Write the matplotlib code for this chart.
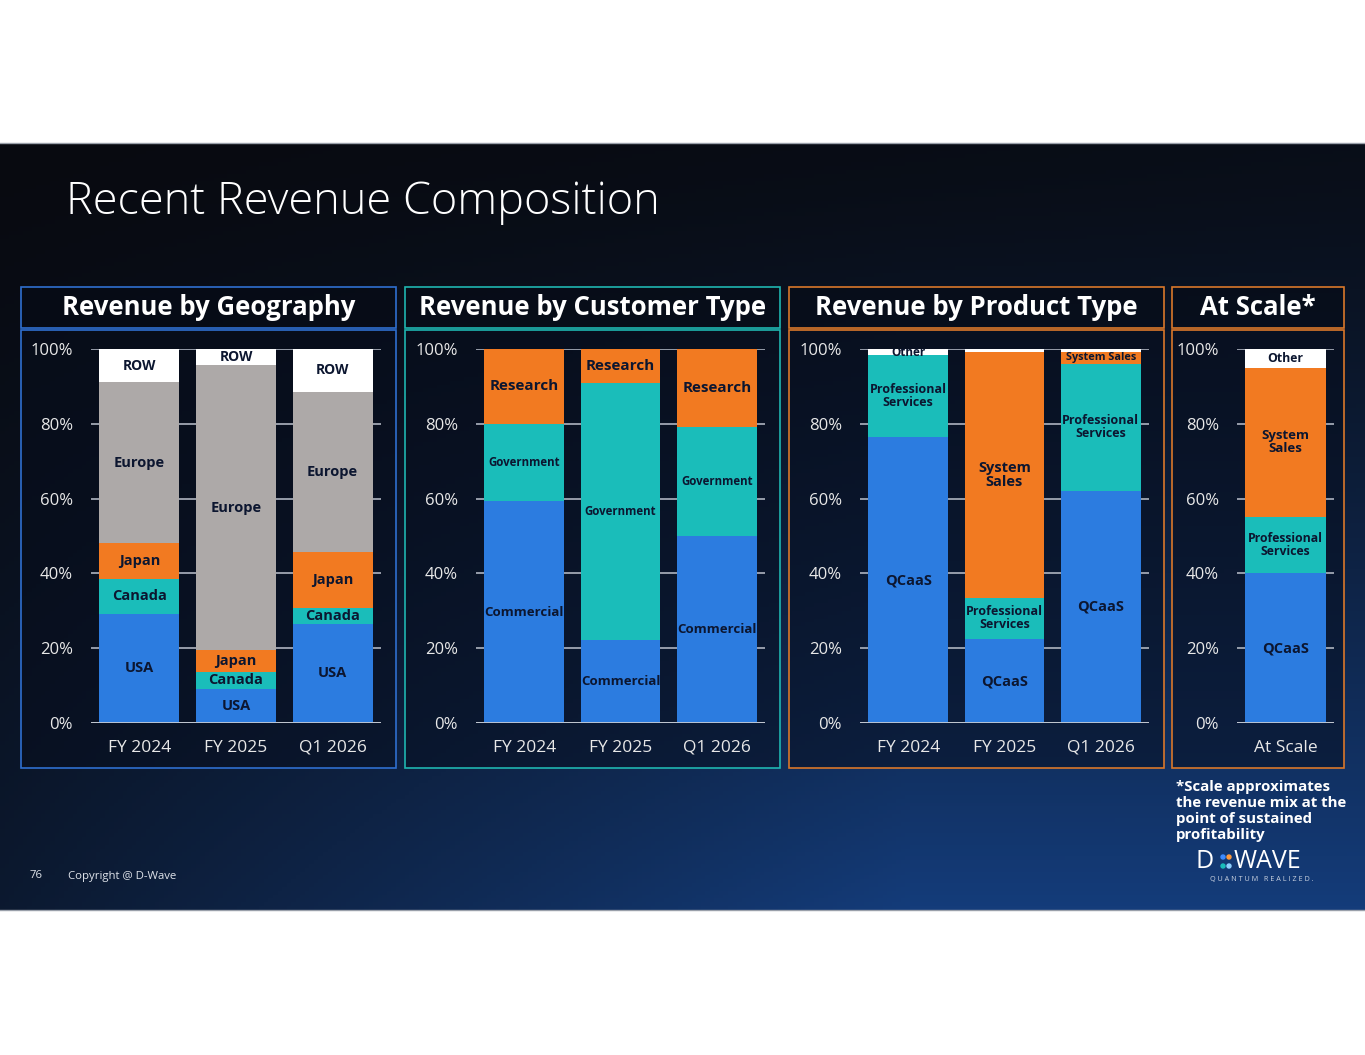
import numpy as np
import matplotlib
matplotlib.use("Agg")
import matplotlib.pyplot as plt
from matplotlib.patches import Rectangle, Circle

W, H = 1365, 1055

# revenue shares in %
periods = ["FY 2024", "FY 2025", "Q1 2026"]

geo_labels = ["USA", "Canada", "Japan", "Europe", "ROW"]
geo_usa = [29.2, 9.1, 26.6]
geo_canada = [9.3, 4.6, 4.2]
geo_japan = [9.6, 5.7, 15.0]
geo_europe = [43.0, 76.3, 42.8]
geo_row = [8.9, 4.3, 11.4]

cust_labels = ["Commercial", "Government", "Research"]
cust_commercial = [59.3, 22.3, 49.9]
cust_government = [20.7, 68.5, 29.2]
cust_research = [20.0, 9.2, 20.9]

prod_labels = ["QCaaS", "Professional\nServices", "System\nSales", "Other"]
prod_qcaas = [76.4, 22.4, 62.1]
prod_services = [21.9, 11.1, 33.9]
prod_system = [0.0, 65.8, 3.2]
prod_other = [1.7, 0.7, 0.8]

scale_cats = ["At Scale"]
scale_qcaas = [40.0]
scale_services = [15.0]
scale_system = [40.0]
scale_other = [5.0]

yticks = [0, 20, 40, 60, 80, 100]
ytick_labels = ["0%", "20%", "40%", "60%", "80%", "100%"]

BLUE = "#2c7ce0"
TEAL = "#1abdba"
ORANGE = "#f27a21"
GREY = "#ada9a8"
WHITE = "#ffffff"
INK = "#0c1630"

plt.rcParams["font.family"] = ["Open Sans", "DejaVu Sans"]

fig = plt.figure(figsize=(W / 100, H / 100), dpi=100)
fig.patch.set_facecolor("white")

# background in pixel coordinates
bg = fig.add_axes([0, 0, 1, 1])
bg.set_xlim(0, W)
bg.set_ylim(H, 0)
bg.axis("off")

top, bot = 143, 910
ny, nx = 200, 300
yy, xx = np.mgrid[0:1:ny * 1j, 0:1:nx * 1j]
f = yy ** 1.3 * (0.3 + 0.7 * np.clip(xx * 1.5, 0, 1)) + 0.08 * xx * (1 - yy)
dark = np.array([8, 10, 16]) / 255
blue = np.array([20, 60, 122]) / 255
grad = dark + (blue - dark) * f[..., None]
bg.imshow(grad, extent=[0, W, bot, top], aspect="auto", zorder=0)
bg.plot([0, W], [top, top], color="#9aa0aa", lw=1, zorder=1)
bg.plot([0, W], [bot, bot], color="#9aa0aa", lw=1, zorder=1)

bg.text(66, 203, "Recent Revenue Composition", color="white", fontsize=32.5,
        fontweight="light", va="center", ha="left")
bg.text(30, 876, "76", color="#dfe3ea", fontsize=8.2, va="center")
bg.text(68, 876, "Copyright @ D-Wave", color="#dfe3ea", fontsize=8.2, va="center")

bg.text(1176, 811, "*Scale approximates\nthe revenue mix at the\npoint of sustained\nprofitability",
        color="white", fontsize=10.8, fontweight="bold", va="center", ha="left",
        linespacing=1.2)

# D-Wave logo, roughly
bg.text(1196, 862, "D", color="white", fontsize=18, va="center", ha="left")
for (cx, cy, c) in [(1223, 857, "#3d8bff"), (1229, 857, "#ff9a3c"),
                    (1223, 866, "#1abdba"), (1229, 866, "#8fd0ff")]:
    bg.add_patch(Circle((cx, cy), 2.0, color=c, zorder=3))
bg.text(1234, 862, "WAVE", color="white", fontsize=18, va="center", ha="left")
bg.text(1262, 880, "Q U A N T U M   R E A L I Z E D .", color="#c9d2e0", fontsize=5.2,
        va="center", ha="center")

panels = [
    ("Revenue by Geography", 21, 396, "#2f6fcf"),
    ("Revenue by Customer Type", 405, 780, "#1fb5b0"),
    ("Revenue by Product Type", 789, 1164, "#d9772a"),
    ("At Scale*", 1172, 1344, "#d9772a"),
]
for title, x0, x1, ec in panels:
    bg.add_patch(Rectangle((x0, 287), x1 - x0, 41, facecolor="#060b16", alpha=0.6,
                           edgecolor="none", zorder=2))
    bg.add_patch(Rectangle((x0, 287), x1 - x0, 41, facecolor="none", edgecolor=ec,
                           lw=1.2, zorder=3))
    bg.add_patch(Rectangle((x0, 330), x1 - x0, 438, facecolor="#070d1c", alpha=0.5,
                           edgecolor="none", zorder=2))
    bg.add_patch(Rectangle((x0, 330), x1 - x0, 438, facecolor="none", edgecolor=ec,
                           lw=1.2, zorder=3))
    bg.text((x0 + x1) / 2, 307.5, title, color="white", fontsize=18.5, fontweight="bold",
            ha="center", va="center", zorder=4)


def px_axes(x0, x1, y0=349, y1=723):
    return fig.add_axes([x0 / W, 1 - y1 / H, (x1 - x0) / W, (y1 - y0) / H])


def stacked(ax, cats, series, colors, labels, sizes):
    x = np.arange(len(cats))
    base = np.zeros(len(cats))
    for vals, col, lab, fs in zip(series, colors, labels, sizes):
        vals = np.array(vals, dtype=float)
        ax.bar(x, vals, bottom=base, width=0.83, color=col, edgecolor="none", zorder=2)
        for i, v in enumerate(vals):
            if v < 1.5 or lab is None:
                continue
            text, size = lab, fs
            if v < 5 and "\n" in lab:
                text, size = lab.replace("\n", " "), 7.8
            ax.text(x[i], base[i] + v / 2, text, ha="center", va="center", fontsize=size,
                    fontweight="bold", color=INK, zorder=3, linespacing=1.0, clip_on=True)
        base += vals
    ax.set_xlim(-0.5, len(cats) - 0.5)
    ax.set_ylim(0, 100)
    ax.set_yticks(yticks)
    ax.set_yticklabels(ytick_labels)
    ax.set_xticks(x)
    ax.set_xticklabels(cats)
    ax.set_facecolor("none")
    for s in ax.spines.values():
        s.set_visible(False)
    ax.tick_params(axis="y", length=0, pad=13, labelsize=12, labelcolor="#e8e8e8")
    ax.tick_params(axis="x", length=0, pad=12, labelsize=12.5, labelcolor="#e8e8e8")
    ax.yaxis.grid(True, color="#aeb4c0", lw=1.2)
    ax.set_axisbelow(True)
    ax.axhline(0, color="#c4cad4", lw=1.3, zorder=4)


ax1 = px_axes(91, 381)
stacked(ax1, periods, [geo_usa, geo_canada, geo_japan, geo_europe, geo_row],
        [BLUE, TEAL, ORANGE, GREY, WHITE], geo_labels, [10.5, 10.5, 10.5, 10.5, 10])

ax2 = px_axes(476, 765)
stacked(ax2, periods, [cust_commercial, cust_government, cust_research],
        [BLUE, TEAL, ORANGE], cust_labels, [9.5, 8.3, 11])

ax3 = px_axes(860, 1149)
stacked(ax3, periods, [prod_qcaas, prod_services, prod_system, prod_other],
        [BLUE, TEAL, ORANGE, WHITE], prod_labels, [10.5, 9, 10.5, 8.5])

ax4 = px_axes(1237, 1334)
stacked(ax4, scale_cats, [scale_qcaas, scale_services, scale_system, scale_other],
        [BLUE, TEAL, ORANGE, WHITE], prod_labels, [10.5, 8.8, 9.5, 8.8])

fig.savefig("out.png", dpi=100, facecolor=fig.get_facecolor())
